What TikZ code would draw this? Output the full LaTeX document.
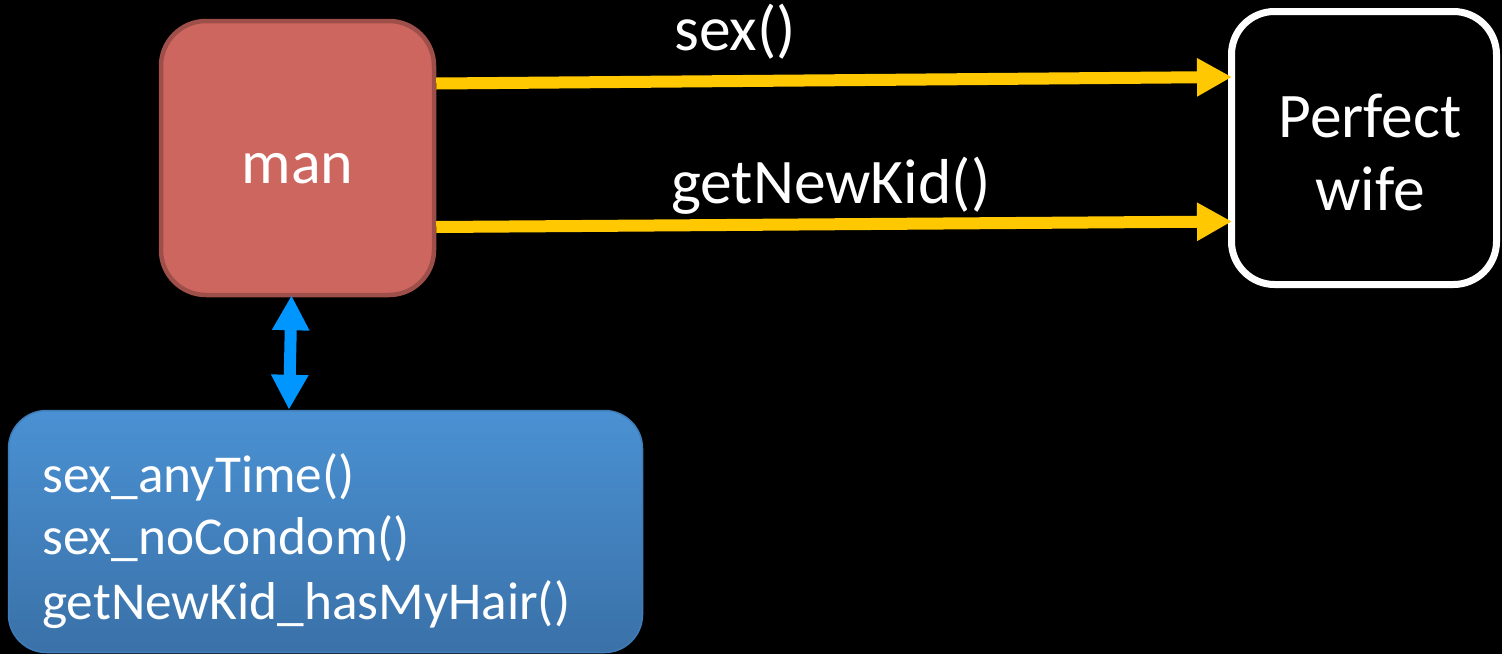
\documentclass[tikz,border=0pt]{standalone}
\usepackage{fontspec}
\setmainfont{Carlito}
\usetikzlibrary{arrows.meta,calc}
\definecolor{manfill}{HTML}{CD665E}
\definecolor{manline}{HTML}{9E4F49}
\definecolor{arrowyellow}{HTML}{FFC800}
\definecolor{arrowblue}{HTML}{0096FF}
\definecolor{bluetop}{HTML}{4A91D3}
\definecolor{bluebot}{HTML}{3A71A8}
\definecolor{blueline}{HTML}{3F7CB8}
\tikzset{
  bigtxt/.style={text=white, font=\fontsize{63.5}{76}\selectfont, inner sep=0pt},
  listtxt/.style={text=white, font=\fontsize{53.3}{63}\selectfont, inner sep=0pt, anchor=base west},
  manbox/.style={draw=manline, line width=4.5pt, fill=manfill, rounded corners=45pt,
    minimum width=273pt, minimum height=274pt, inner sep=0pt,
    text=white, font=\fontsize{62}{74}\selectfont, text height=50pt, text depth=0pt},
  wifebox/.style={draw=white, line width=7pt, fill=black, rounded corners=43pt,
    minimum width=265pt, minimum height=273pt, inner sep=0pt},
  bluebox/.style={draw=blueline, line width=1.5pt, top color=bluetop, bottom color=bluebot,
    rounded corners=38pt, minimum width=634pt, minimum height=242pt, inner sep=0pt},
  yarrow/.style={draw=arrowyellow, line width=12pt, -{Triangle[length=35pt,width=36pt]}},
  barrow/.style={draw=arrowblue, line width=12pt,
    {Triangle[length=35pt,width=35pt]}-{Triangle[length=35pt,width=35pt]}}
}
\begin{document}
\begin{tikzpicture}[x=1pt,y=-1pt]
\fill[black] (0,0) rectangle (1502,654);
\useasboundingbox (0,0) rectangle (1502,654);

\node[manbox] (man) at (297.5,158) {man};
\node[wifebox] (wife) at (1364,148) {};
\node[bigtxt, anchor=base] (wt1) at (1370,137) {Perfect};
\node[bigtxt, anchor=base] (wt2) at (1370,210) {wife};

\node[bluebox] (blue) at (325.5,531.5) {};
\node[listtxt] (l1) at (42,492) {sex\_anyTime()};
\node[listtxt] (l2) at (42,554) {sex\_noCondom()};
\node[listtxt] (l3) at (42,619) {getNewKid\_hasMyHair()};

\draw[yarrow] ([yshift=74.5pt]man.east) -- ([xshift=4pt,yshift=71pt]wife.west);
\draw[yarrow] ([yshift=-69pt]man.east) -- ([xshift=4pt,yshift=-73.5pt]wife.west);
\node[bigtxt, anchor=base west] (s1) at (674,50) {sex()};
\node[bigtxt, anchor=base west] (s2) at (671,203) {getNewKid()};

\draw[barrow] ([xshift=-6pt,yshift=2pt]man.south) -- ([xshift=-36.5pt]blue.north);
\end{tikzpicture}
\end{document}
